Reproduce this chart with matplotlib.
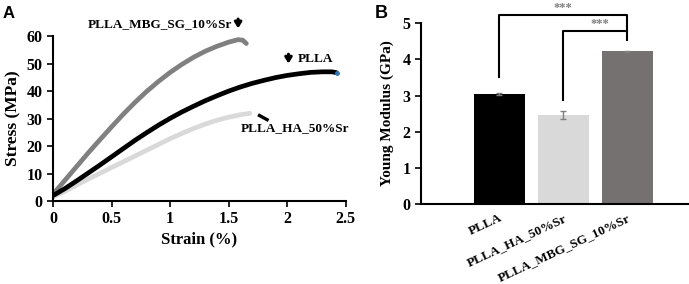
import matplotlib.pyplot as plt
from matplotlib.transforms import ScaledTranslation

plt.rcParams['font.family'] = ['Liberation Serif', 'DejaVu Serif']
plt.rcParams['font.weight'] = 'bold'
plt.rcParams['axes.labelweight'] = 'bold'

# panel A: stress-strain curves
mbg_strain = [0, 0.1, 0.2, 0.3, 0.4, 0.5, 0.6, 0.7, 0.8, 0.9, 1.0, 1.1, 1.2, 1.3,
              1.4, 1.5, 1.58, 1.62, 1.65]
mbg_stress = [2.5, 7.5, 12.5, 17.5, 22.3, 27, 31.6, 35.9, 39.9, 43.5, 46.8, 49.7,
              52.3, 54.5, 56.3, 57.8, 58.7, 58.5, 57.3]

plla_strain = [0, 0.1, 0.2, 0.3, 0.4, 0.5, 0.6, 0.7, 0.8, 0.9, 1.0, 1.1, 1.2, 1.3,
               1.4, 1.5, 1.6, 1.7, 1.8, 1.9, 2.0, 2.1, 2.2, 2.3, 2.38, 2.42]
plla_stress = [2, 4.5, 7.3, 10.2, 13.1, 16.1, 19.1, 22.1, 24.9, 27.6, 30.1, 32.4,
               34.5, 36.5, 38.3, 40.0, 41.5, 42.8, 43.9, 44.9, 45.7, 46.3, 46.8,
               47.0, 47.0, 46.7]

ha_strain = [0, 0.1, 0.2, 0.3, 0.4, 0.5, 0.6, 0.7, 0.8, 0.9, 1.0, 1.1, 1.2, 1.3,
             1.4, 1.5, 1.6, 1.68]
ha_stress = [1.5, 3.5, 5.8, 8.0, 10.1, 12.2, 14.3, 16.4, 18.5, 20.6, 22.7, 24.6,
             26.4, 28.0, 29.4, 30.5, 31.4, 31.9]

# panel B: Young modulus
groups = ['PLLA', 'PLLA_HA_50%Sr', 'PLLA_MBG_SG_10%Sr']
modulus = [3.05, 2.47, 4.22]
modulus_err = [0.03, 0.11, 0.02]
bar_colors = ['#000000', '#d9d9d9', '#767171']


def bold_ticks(a):
    for lbl in a.get_xticklabels() + a.get_yticklabels():
        lbl.set_fontweight('bold')


fig = plt.figure(figsize=(6.89, 2.84), dpi=100)

# ---------------- panel A ----------------
ax = fig.add_axes([0.077, 0.292, 0.425, 0.581])
ax.plot(mbg_strain, mbg_stress, color='#808080', lw=3.4, solid_capstyle='round')
ax.plot(ha_strain, ha_stress, color='#d9d9d9', lw=3.4, solid_capstyle='round')
ax.plot(plla_strain, plla_stress, color='black', lw=3.4, solid_capstyle='round')
ax.plot(plla_strain[-1:], plla_stress[-1:], 'o', color='#2e75b6', ms=2.5)

ax.set_xlim(0, 2.5)
ax.set_ylim(0, 60)
ax.set_xticks([0, 0.5, 1, 1.5, 2, 2.5])
ax.set_xticklabels(['0', '0.5', '1', '1.5', '2', '2.5'])
ax.set_yticks(range(0, 61, 10))
for s in ['top', 'right']:
    ax.spines[s].set_visible(False)
for s in ['left', 'bottom']:
    ax.spines[s].set_linewidth(1.5)
ax.tick_params(direction='out', length=4, width=1.2, labelsize=11.5)
bold_ticks(ax)
ax.set_xlabel('Strain (%)', fontsize=12, labelpad=3)
ax.set_ylabel('Stress (MPa)', fontsize=12.5, labelpad=4)

arrow = dict(arrowstyle='-|>,head_width=0.2,head_length=0.32', color='black', lw=2.2)
ax.text(1.53, 64.4, 'PLLA_MBG_SG_10%Sr', ha='right', va='center', fontsize=9.5)
ax.annotate('', xy=(1.58, 61.8), xytext=(1.58, 67.2), arrowprops=arrow,
            annotation_clip=False)
ax.text(2.09, 51.6, 'PLLA', ha='left', va='center', fontsize=9.5)
ax.annotate('', xy=(2.01, 49.0), xytext=(2.01, 54.4), arrowprops=arrow,
            annotation_clip=False)
ax.text(1.6, 26.5, 'PLLA_HA_50%Sr', ha='left', va='center', fontsize=9.5,
        clip_on=False)
ax.plot([1.75, 1.84], [31.4, 29.3], color='black', lw=2.4, solid_capstyle='butt')

fig.text(0.004, 0.935, 'A', family='Liberation Sans', fontsize=12, fontweight='bold')

# ---------------- panel B ----------------
bx = fig.add_axes([0.611, 0.282, 0.388, 0.636])
xs = list(range(len(groups)))
bx.bar(xs, modulus, width=0.8, color=bar_colors)
bx.errorbar(xs, modulus, yerr=modulus_err, fmt='none', ecolor='#7f7f7f',
            elinewidth=1, capsize=2, capthick=1)
bx.set_xlim(-1.23, 2.96)
bx.set_ylim(0, 5)
bx.set_yticks(range(6))
bx.set_xticks(xs)
bx.set_xticklabels(groups, rotation=25, ha='right', rotation_mode='anchor',
                   fontsize=9.5)
shift = ScaledTranslation(4 / 100, 0, fig.dpi_scale_trans)
for lbl in bx.get_xticklabels():
    lbl.set_transform(lbl.get_transform() + shift)
for s in ['top', 'right']:
    bx.spines[s].set_visible(False)
for s in ['left', 'bottom']:
    bx.spines[s].set_linewidth(1.5)
bx.tick_params(axis='y', direction='out', length=4, width=1.2, labelsize=11.5)
bx.tick_params(axis='x', length=0, pad=6)
bold_ticks(bx)
bx.set_ylabel('Young Modulus (GPa)', fontsize=11, labelpad=6)

# significance brackets
bx.plot([0, 0, 2, 2], [3.5, 5.23, 5.23, 4.54], color='black', lw=1.5, clip_on=False)
bx.plot([1, 1, 2], [2.88, 4.78, 4.78], color='black', lw=1.5, clip_on=False)
bx.text(1.0, 5.27, '***', ha='center', va='bottom', fontsize=9, color='#7f7f7f')
bx.text(1.58, 4.82, '***', ha='center', va='bottom', fontsize=9, color='#7f7f7f')

fig.text(0.544, 0.935, 'B', family='Liberation Sans', fontsize=13, fontweight='bold')

fig.savefig('out.png', dpi=100)
